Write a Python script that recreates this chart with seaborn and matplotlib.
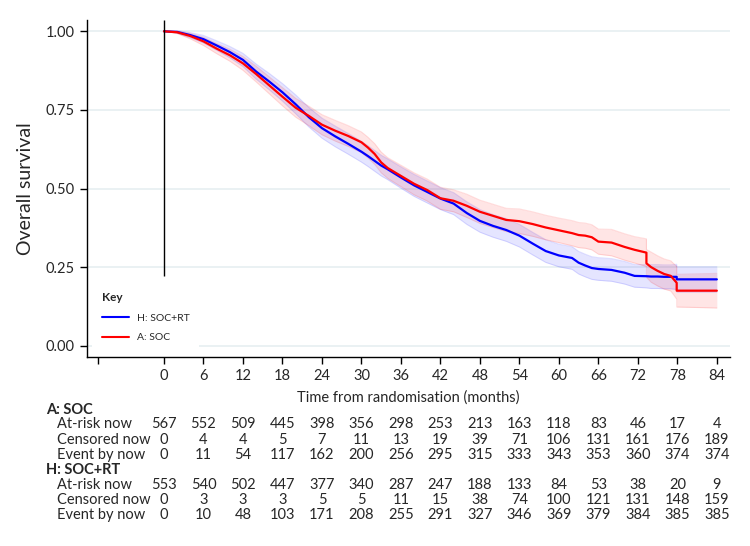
import numpy as np
import pandas as pd
import matplotlib
matplotlib.use("Agg")
import matplotlib.pyplot as plt
import matplotlib.transforms as mtransforms
from matplotlib.lines import Line2D
import seaborn as sns

sns.set_theme(style="white")
plt.rcParams['font.family'] = ['Lato', 'DejaVu Sans']

# Kaplan-Meier estimates (months, survival)
months = [0, 2, 4, 6, 8, 10, 12, 14, 16, 18, 20, 22, 24, 26, 28, 30, 31, 32, 33, 34,
          36, 38, 40, 42, 44, 46, 48, 50, 52, 54, 56, 58, 60, 62, 63, 64, 65, 66, 68, 70,
          71.5, 73.3, 73.3, 74, 75, 76, 77, 77.9, 77.9, 84]

surv_rt = [1.000, 0.998, 0.988, 0.975, 0.955, 0.934, 0.909, 0.872, 0.840, 0.806,
           0.768, 0.727, 0.692, 0.666, 0.642, 0.617, 0.603, 0.588, 0.573, 0.561,
           0.535, 0.510, 0.489, 0.468, 0.452, 0.422, 0.397, 0.381, 0.368, 0.350,
           0.325, 0.301, 0.287, 0.279, 0.264, 0.255, 0.247, 0.244, 0.241, 0.232,
           0.222, 0.221, 0.221, 0.220, 0.220, 0.219, 0.219, 0.219, 0.211, 0.211]

surv_soc = [1.000, 0.997, 0.985, 0.968, 0.945, 0.924, 0.898, 0.864, 0.828, 0.792,
            0.757, 0.731, 0.703, 0.684, 0.667, 0.647, 0.630, 0.610, 0.583, 0.565,
            0.540, 0.515, 0.495, 0.469, 0.461, 0.445, 0.426, 0.413, 0.400, 0.396,
            0.387, 0.376, 0.367, 0.358, 0.352, 0.350, 0.345, 0.331, 0.328, 0.314,
            0.305, 0.296, 0.262, 0.250, 0.238, 0.228, 0.222, 0.200, 0.175, 0.175]

# half-width of the 95% confidence band
ci_rt = [0.000, 0.004, 0.008, 0.012, 0.015, 0.018, 0.021, 0.024, 0.026, 0.028,
         0.030, 0.031, 0.032, 0.033, 0.033, 0.033, 0.033, 0.033, 0.033, 0.033,
         0.034, 0.035, 0.035, 0.035, 0.035, 0.036, 0.036, 0.036, 0.036, 0.036,
         0.036, 0.036, 0.036, 0.036, 0.036, 0.036, 0.036, 0.036, 0.036, 0.036,
         0.036, 0.037, 0.037, 0.038, 0.038, 0.038, 0.038, 0.040, 0.040, 0.040]

ci_soc = [0.000, 0.004, 0.009, 0.013, 0.016, 0.019, 0.022, 0.025, 0.027, 0.029,
          0.030, 0.031, 0.032, 0.033, 0.033, 0.033, 0.033, 0.033, 0.033, 0.033,
          0.034, 0.035, 0.035, 0.035, 0.035, 0.037, 0.037, 0.037, 0.037, 0.039,
          0.039, 0.039, 0.039, 0.040, 0.040, 0.040, 0.040, 0.040, 0.042, 0.042,
          0.042, 0.044, 0.044, 0.048, 0.048, 0.048, 0.048, 0.052, 0.052, 0.055]

# numbers-at-risk table
table_times = [0, 6, 12, 18, 24, 30, 36, 42, 48, 54, 60, 66, 72, 78, 84]
soc_at_risk = [567, 552, 509, 445, 398, 356, 298, 253, 213, 163, 118, 83, 46, 17, 4]
soc_censored = [0, 4, 4, 5, 7, 11, 13, 19, 39, 71, 106, 131, 161, 176, 189]
soc_events = [0, 11, 54, 117, 162, 200, 256, 295, 315, 333, 343, 353, 360, 374, 374]
rt_at_risk = [553, 540, 502, 447, 377, 340, 287, 247, 188, 133, 84, 53, 38, 20, 9]
rt_censored = [0, 3, 3, 3, 5, 5, 11, 15, 38, 74, 100, 121, 131, 148, 159]
rt_events = [0, 10, 48, 103, 171, 208, 255, 291, 327, 346, 369, 379, 384, 385, 385]

blue = '#0000ff'
red = '#ff0000'

df = pd.concat([
    pd.DataFrame({'month': months, 'surv': surv_rt, 'arm': 'H: SOC+RT'}),
    pd.DataFrame({'month': months, 'surv': surv_soc, 'arm': 'A: SOC'}),
])

fig = plt.figure(figsize=(7.5, 5.46), dpi=100)
W, H = 750, 546
ax = fig.add_axes([87 / W, 1 - 357 / H, (730 - 87) / W, (357 - 20) / H])

ax.set_xlim(-11.7, 86)
ax.set_ylim(-0.036, 1.036)

# confidence bands
for surv, ci, col in [(surv_rt, ci_rt, blue), (surv_soc, ci_soc, red)]:
    s = np.array(surv)
    c = np.array(ci)
    ax.fill_between(months, s - c, s + c, color=col, alpha=0.10, lw=0, zorder=2)
    ax.plot(months, s - c, color=col, alpha=0.12, lw=0.8, zorder=2)
    ax.plot(months, s + c, color=col, alpha=0.12, lw=0.8, zorder=2)

sns.lineplot(data=df, x='month', y='surv', hue='arm', palette={'H: SOC+RT': blue, 'A: SOC': red},
             estimator=None, sort=False, lw=1.6, ax=ax, legend=False, zorder=3)

ax.vlines(0, 0.222, 1.036, color='black', lw=1, zorder=4)

ax.set_yticks([0, 0.25, 0.5, 0.75, 1.0])
ax.set_yticklabels(['0.00', '0.25', '0.50', '0.75', '1.00'])
ax.set_xticks([-10] + table_times)
ax.set_xticklabels([''] + [str(t) for t in table_times])
ax.yaxis.grid(True, color='#e6eff1', lw=1.2, zorder=0)
ax.xaxis.grid(False)
ax.set_axisbelow(True)

for side in ['top', 'right']:
    ax.spines[side].set_visible(False)
for side in ['left', 'bottom']:
    ax.spines[side].set_color('black')
    ax.spines[side].set_linewidth(1)

ax.tick_params(axis='both', direction='out', length=5, width=1, color='black',
               labelsize=10.5, pad=4, bottom=True, left=True)
ax.set_xlabel('Time from randomisation (months)', fontsize=10.5, labelpad=5)
ax.set_ylabel('Overall survival', fontsize=14, labelpad=8)

handles = [Line2D([], [], color=blue, lw=1.5), Line2D([], [], color=red, lw=1.5)]
leg = ax.legend(handles, ['H: SOC+RT', 'A: SOC'], title='Key', loc='lower left',
                bbox_to_anchor=(0.0, 0.0), frameon=True, facecolor='white', edgecolor='none',
                framealpha=1, fontsize=7.5, title_fontsize=8.5, handlelength=2.6,
                labelspacing=1.0, borderpad=0.9, alignment='left')
leg.get_title().set_fontweight('bold')
leg.set_zorder(5)

# risk table below the axes
trans = mtransforms.blended_transform_factory(ax.transData, fig.transFigure)
rows = [
    ('A: SOC', None, 410),
    ('At-risk now', soc_at_risk, 424),
    ('Censored now', soc_censored, 440),
    ('Event by now', soc_events, 455),
    ('H: SOC+RT', None, 470),
    ('At-risk now', rt_at_risk, 485),
    ('Censored now', rt_censored, 500),
    ('Event by now', rt_events, 515),
]
for label, vals, ypx in rows:
    yf = 1 - ypx / H
    if vals is None:
        fig.text(46 / W, yf, label, fontsize=10.5, fontweight='bold', va='center', ha='left')
    else:
        fig.text(57 / W, yf, label, fontsize=10.5, va='center', ha='left')
        for t, v in zip(table_times, vals):
            ax.text(t, yf, str(v), transform=trans, fontsize=10.5, va='center', ha='center',
                    clip_on=False)

fig.savefig('out.png', dpi=100, facecolor='white')
